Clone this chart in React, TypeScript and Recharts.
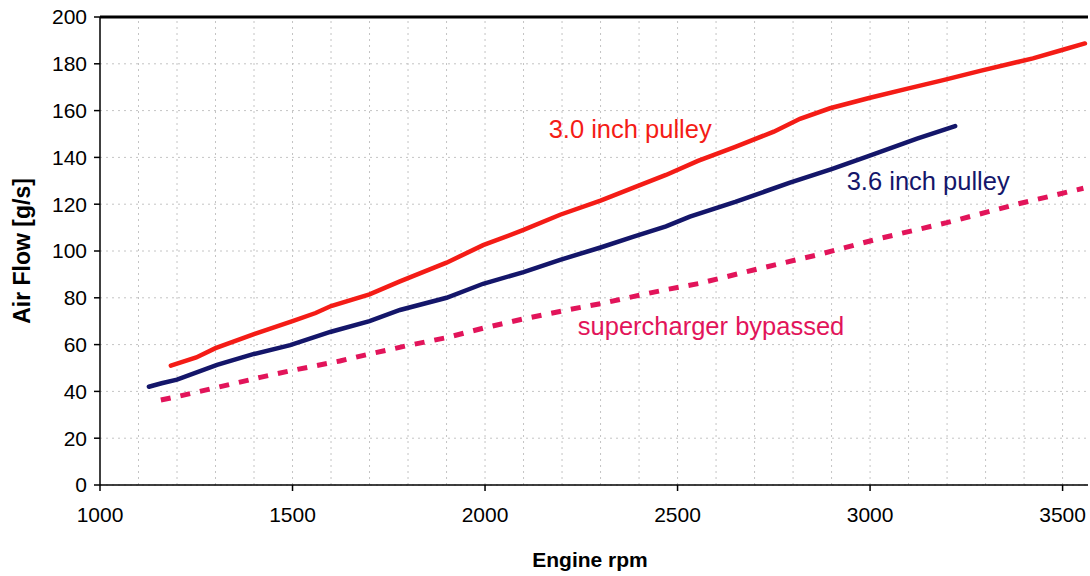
import {
  CartesianGrid,
  Label,
  Line,
  LineChart,
  ReferenceDot,
  ReferenceLine,
  XAxis,
  YAxis
} from "recharts";

// 3.0 inch pulley
const P30_RPM = [1184, 1250, 1300, 1400, 1500, 1560, 1600, 1700, 1779, 1900, 1995, 2100, 2195, 2300, 2384, 2470, 2553, 2650, 2750, 2818, 2896, 3000, 3100, 3190, 3286, 3423, 3501, 3558];
const P30_FLOW = [51, 54.5, 58.5, 64.5, 70, 73.5, 76.5, 81.5, 87, 95, 102.5, 109, 115.5, 121.5, 127, 132.5, 138.5, 144.5, 151, 156.5, 161, 165.5, 169.5, 173, 177, 182.3, 186, 188.7];

// 3.6 inch pulley
const P36_RPM = [1127, 1160, 1200, 1304, 1400, 1494, 1600, 1700, 1779, 1900, 1995, 2100, 2195, 2300, 2384, 2470, 2532, 2650, 2792, 2900, 2992, 3122, 3221];
const P36_FLOW = [42, 43.5, 45, 51.3, 56, 59.8, 65.5, 70, 74.8, 80, 86, 91, 96.2, 101.5, 106, 110.5, 114.7, 121, 129.2, 135, 140.3, 148, 153.4];

// supercharger bypassed
const BYP_RPM = [1158, 1220, 1286, 1416, 1500, 1623, 1700, 1805, 1900, 1995, 2100, 2213, 2300, 2384, 2470, 2558, 2700, 2862, 3026, 3199, 3381, 3554];
const BYP_FLOW = [36.3, 38.5, 41, 46, 49, 53, 56, 59.8, 63, 67, 71, 74.8, 77.5, 80.5, 83.5, 86.2, 92, 98.3, 105.4, 112.1, 120, 126.8];

const X_TICKS = [1000, 1500, 2000, 2500, 3000, 3500];
const Y_TICKS = [0, 20, 40, 60, 80, 100, 120, 140, 160, 180, 200];
const GRID_RPM = [1100, 1200, 1300, 1400, 1500, 1600, 1700, 1800, 1900, 2000, 2100, 2200, 2300, 2400, 2500, 2600, 2700, 2800, 2900, 3000, 3100, 3200, 3300, 3400, 3500];

const RED = "#f41c16";
const NAVY = "#14166a";
const PINK = "#e2145a";
const FONT = "'Liberation Sans', Arial, sans-serif";

const zip = (xs: number[], ys: number[]) => xs.map((rpm, i) => ({ rpm, flow: ys[i] }));

const p30 = zip(P30_RPM, P30_FLOW);
const p36 = zip(P36_RPM, P36_FLOW);
const byp = zip(BYP_RPM, BYP_FLOW);

const notes = [
  { text: "3.0 inch pulley", rpm: 2377, flow: 152, color: RED },
  { text: "3.6 inch pulley", rpm: 3151, flow: 130, color: NAVY },
  { text: "supercharger bypassed", rpm: 2587, flow: 68, color: PINK }
];

function YTitle(props: any) {
  const vb = props.viewBox || { x: 0, y: 17, width: 100, height: 468 };
  const x = vb.x + 22;
  const y = vb.y + vb.height / 2;
  return (
    <text x={x} y={y} transform={`rotate(-90, ${x}, ${y})`} textAnchor="middle" dominantBaseline="central"
      fontFamily={FONT} fontSize={23} fontWeight="bold" fill="#000">
      Air Flow [g/s]
    </text>
  );
}

function XTitle(props: any) {
  const vb = props.viewBox || { x: 100, y: 485, width: 988, height: 91 };
  return (
    <text x={vb.x + vb.width / 2 - 4} y={vb.y + 74} textAnchor="middle" dominantBaseline="central"
      fontFamily={FONT} fontSize={21} fontWeight="bold" fill="#000">
      Engine rpm
    </text>
  );
}

export default function App() {
  return (
    <div style={{ position: "absolute", left: 0, top: 0, background: "#fff" }}>
      <LineChart width={1090} height={576} margin={{ top: 17, right: 2, bottom: 0, left: 0 }} style={{ fontFamily: FONT }}>
        <CartesianGrid vertical={false} stroke="#c4c4c4" strokeDasharray="2 4" />
        {GRID_RPM.map((v) => (
          <ReferenceLine key={v} x={v} stroke="#c4c4c4" strokeDasharray="2 4" />
        ))}
        <ReferenceLine y={200} stroke="#000" strokeWidth={3} />
        <XAxis
          type="number"
          dataKey="rpm"
          domain={[1000, 3566]}
          ticks={X_TICKS}
          allowDataOverflow
          height={91}
          tickSize={6}
          tickMargin={16}
          stroke="#000"
          strokeWidth={1.5}
          tick={{ fill: "#000", fontSize: 21 }}
        >
          <Label content={XTitle} />
        </XAxis>
        <YAxis
          type="number"
          domain={[0, 200]}
          ticks={Y_TICKS}
          width={100}
          tickSize={6}
          tickMargin={7}
          stroke="#000"
          strokeWidth={1.5}
          tick={{ fill: "#000", fontSize: 21 }}
        >
          <Label content={YTitle} />
        </YAxis>
        <Line data={byp} dataKey="flow" type="linear" stroke={PINK} strokeWidth={5} strokeDasharray="10 10" dot={false} isAnimationActive={false} />
        <Line data={p36} dataKey="flow" type="linear" stroke={NAVY} strokeWidth={4.5} strokeLinecap="round" dot={false} isAnimationActive={false} />
        <Line data={p30} dataKey="flow" type="linear" stroke={RED} strokeWidth={4.5} strokeLinecap="round" dot={false} isAnimationActive={false} />
        {notes.map((n) => (
          <ReferenceDot
            key={n.text}
            x={n.rpm}
            y={n.flow}
            r={1}
            fill="none"
            stroke="none"
            label={{ value: n.text, position: "center", fill: n.color, fontSize: 25.5, fontFamily: FONT }}
          />
        ))}
      </LineChart>
    </div>
  );
}
